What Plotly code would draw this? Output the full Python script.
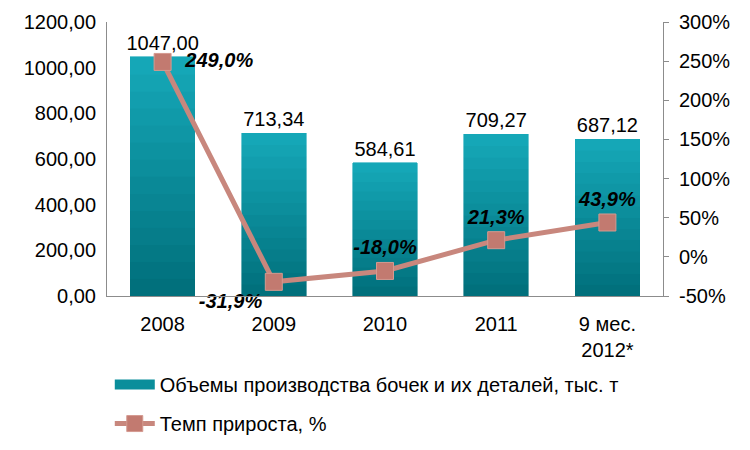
import plotly.graph_objects as go

categories = ["2008", "2009", "2010", "2011", "9 мес.<br>2012*"]
volumes = [1047.00, 713.34, 584.61, 709.27, 687.12]
growth = [249.0, -31.9, -18.0, 21.3, 43.9]

left_ticks = [0, 200, 400, 600, 800, 1000, 1200]
right_ticks = [-50, 0, 50, 100, 150, 200, 250, 300]

bar_name = "Объемы производства бочек и их деталей, тыс. т"
line_name = "Темп прироста, %"

font_family = "Liberation Sans, Arial, sans-serif"
FS = 20


def fmt(v, d):
    return f"{v:.{d}f}".replace(".", ",")


# vertical gradient for the bars: stacked slices of each bar, dark at bottom
N = 14
top_rgb = (0x16, 0xA9, 0xB9)
bot_rgb = (0x00, 0x6E, 0x7A)

fig = go.Figure()
for k in range(N):
    t = (k + 0.5) / N
    col = "rgb(%d,%d,%d)" % tuple(round(b + (a - b) * t) for a, b in zip(top_rgb, bot_rgb))
    last = k == N - 1
    fig.add_trace(go.Bar(
        x=categories, y=[v / N for v in volumes],
        marker=dict(color=col, line=dict(width=0.6, color=col)),
        text=[fmt(v, 2) for v in volumes] if last else None,
        textposition="outside" if last else "none",
        textfont=dict(size=FS, color="#000000", family=font_family),
        constraintext="none",
        cliponaxis=False, showlegend=False, hoverinfo="skip",
    ))

# legend entry for the bars (wide teal swatch)
fig.add_trace(go.Scatter(
    x=[None], y=[None], mode="lines", name=bar_name,
    line=dict(color="#0A8E9B", width=12), legendgroup="a",
))

fig.add_trace(go.Scatter(
    x=categories, y=growth, name=line_name, yaxis="y2",
    mode="lines+markers+text",
    line=dict(color="#C8877D", width=5),
    marker=dict(symbol="square", size=17, color="#C27A70",
                line=dict(color="#D49A90", width=1)),
    text=["<b><i>" + ("  " if i == 0 else "") + fmt(v, 1) + "%</i></b>" for i, v in enumerate(growth)],
    textposition=["middle right", "bottom left", "top center", "top center", "top center"],
    textfont=dict(size=FS, color="#000000", family=font_family),
    cliponaxis=False, legendgroup="b",
))

fig.update_layout(
    width=750, height=450,
    margin=dict(l=107, r=87, t=22, b=154, autoexpand=False),
    paper_bgcolor="white", plot_bgcolor="white",
    font=dict(family=font_family, size=FS, color="#000000"),
    barmode="stack",
    bargap=0.42,
    showlegend=True,
    legend=dict(orientation="v", x=0.005, xanchor="left", y=-0.252, yanchor="top",
                font=dict(size=FS), tracegroupgap=10, traceorder="grouped",
                itemwidth=40),
    xaxis=dict(showline=True, linecolor="#8C8C8C", linewidth=1, ticks="",
               tickfont=dict(size=FS), showgrid=False, ticklabelstandoff=10),
    yaxis=dict(range=[0, 1200], tickvals=left_ticks,
               ticktext=[fmt(v, 2) for v in left_ticks], showline=True,
               linecolor="#8C8C8C", linewidth=1, ticks="", showgrid=False,
               zeroline=False, tickfont=dict(size=FS), ticklabelstandoff=6),
    yaxis2=dict(range=[-50, 300], tickvals=right_ticks,
                ticktext=[f"{v}%" for v in right_ticks], overlaying="y",
                side="right", showline=True, linecolor="#8C8C8C", linewidth=1,
                ticks="outside", ticklen=5, tickcolor="#8C8C8C", showgrid=False,
                zeroline=False, tickfont=dict(size=FS), ticklabelstandoff=6),
)

fig.write_html("out.html")
